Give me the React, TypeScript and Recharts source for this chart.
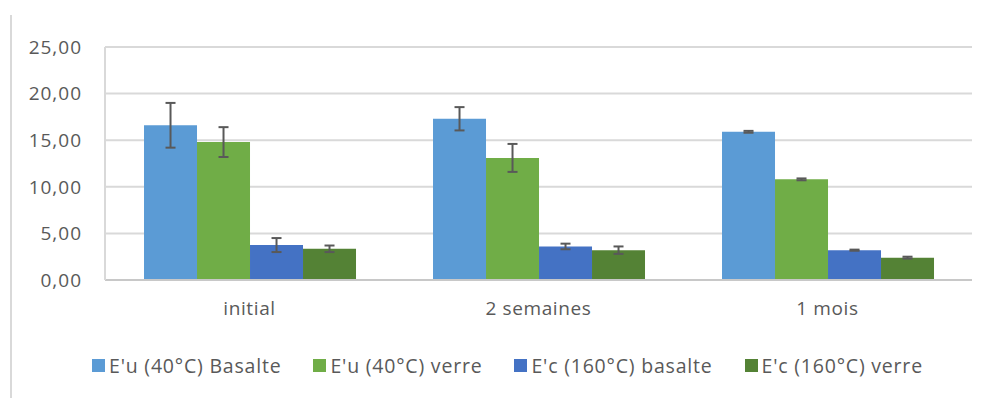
import React from 'react';
import { BarChart, Bar, XAxis, YAxis, CartesianGrid, ErrorBar, Legend } from 'recharts';

const categories = ['initial', '2 semaines', '1 mois'];
const euBasalte = [16.6, 17.3, 15.9];
const euBasalteErr = [2.4, 1.25, 0.1];
const euVerre = [14.8, 13.1, 10.8];
const euVerreErr = [1.6, 1.5, 0.1];
const ecBasalte = [3.75, 3.6, 3.2];
const ecBasalteErr = [0.75, 0.3, 0.06];
const ecVerre = [3.35, 3.2, 2.4];
const ecVerreErr = [0.35, 0.4, 0.1];
const yTicks = [0, 5, 10, 15, 20, 25];

const seriesNames = ["E'u (40°C) Basalte", "E'u (40°C) verre", "E'c (160°C) basalte", "E'c (160°C) verre"];
const colors = ['#5B9BD5', '#70AD47', '#4472C4', '#548235'];

const data = categories.map((c, i) => ({
  name: c,
  a: euBasalte[i], aErr: euBasalteErr[i],
  b: euVerre[i], bErr: euVerreErr[i],
  c: ecBasalte[i], cErr: ecBasalteErr[i],
  d: ecVerre[i], dErr: ecVerreErr[i],
}));

const FONT = '"Open Sans", Lato, sans-serif';
const TEXT = '#595959';
const LS = 0.6;

const fmt = (v: number) => v.toFixed(2).replace('.', ',');

const LegendContent = (props: any) => {
  const payload = [...(props.payload || [])].sort(
    (x: any, y: any) => seriesNames.indexOf(x.value) - seriesNames.indexOf(y.value)
  );
  return (
    <div style={{ display: 'flex', alignItems: 'center', height: 40, gap: 32, fontFamily: FONT, fontSize: 19.5, letterSpacing: 0.8, color: TEXT, whiteSpace: 'nowrap' }}>
      {payload.map((p: any, i: number) => (
        <div key={i} style={{ display: 'flex', alignItems: 'center' }}>
          <span style={{ display: 'inline-block', width: 13, height: 13, background: p.color, marginRight: 4 }} />
          <span>{p.value}</span>
        </div>
      ))}
    </div>
  );
};

export default function App() {
  const keys = ['a', 'b', 'c', 'd'];
  return (
    <div style={{ position: 'absolute', left: 0, top: 0, width: 989, height: 398, background: '#fff' }}>
      <div style={{ position: 'absolute', left: 10, top: 15, width: 2, height: 383, background: '#d9d9d9' }} />
      <BarChart
        width={989}
        height={398}
        data={data}
        margin={{ top: 47, right: 17, bottom: 13, left: 0 }}
        barCategoryGap="13.5%"
        barGap={0}
      >
        <CartesianGrid vertical={false} stroke="#d9d9d9" strokeWidth={2} />
        <XAxis
          dataKey="name"
          height={65}
          tickLine={false}
          axisLine={{ stroke: '#c8c8c8', strokeWidth: 2 }}
          tickMargin={16}
          tick={{ fill: TEXT, fontSize: 19, fontFamily: FONT, letterSpacing: LS }}
        />
        <YAxis
          width={105}
          domain={[0, 25]}
          ticks={yTicks}
          tickFormatter={fmt}
          tickLine={false}
          axisLine={{ stroke: '#d9d9d9', strokeWidth: 2 }}
          tickMargin={17}
          tick={{ fill: TEXT, fontSize: 19, fontFamily: FONT, letterSpacing: 1 }}
          interval={0}
        />
        <Legend
          verticalAlign="bottom"
          height={40}
          wrapperStyle={{ left: 92, width: 880 }}
          content={<LegendContent />}
        />
        {keys.map((k, i) => (
          <Bar key={k} dataKey={k} name={seriesNames[i]} fill={colors[i]} isAnimationActive={false}>
            <ErrorBar dataKey={k + 'Err'} width={5} stroke="#595959" strokeWidth={2} direction="y" />
          </Bar>
        ))}
      </BarChart>
    </div>
  );
}
